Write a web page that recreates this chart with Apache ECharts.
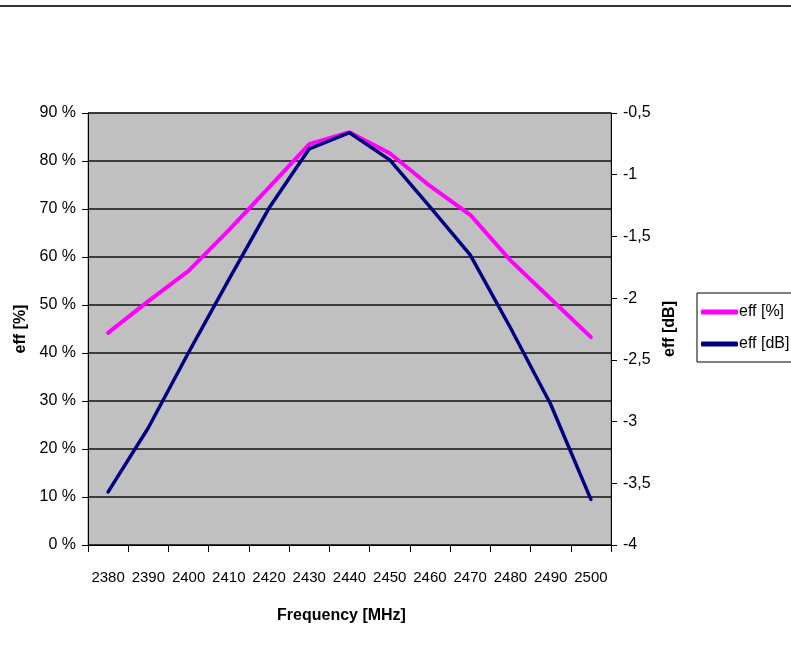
<!DOCTYPE html>
<html>
<head>
<meta charset="utf-8">
<script src="https://cdn.jsdelivr.net/npm/echarts@6/dist/echarts.min.js"></script>
<style>
html,body{margin:0;padding:0;background:#fff;}
#chart{width:791px;height:647px;}
</style>
</head>
<body>
<div id="chart"></div>
<script>
const categories = ['2380','2390','2400','2410','2420','2430','2440','2450','2460','2470','2480','2490','2500'];
const effPct = [44.2, 50.8, 57.1, 65.6, 74.5, 83.5, 86.0, 81.6, 74.8, 68.8, 59.3, 51.3, 43.3];
const effDb = [-3.57, -3.05, -2.44, -1.85, -1.27, -0.79, -0.66, -0.88, -1.26, -1.65, -2.24, -2.86, -3.63];
const seriesNames = ['eff [%]', 'eff [dB]'];

const FONT = '"Liberation Sans", Arial, sans-serif';
const chart = echarts.init(document.getElementById('chart'));
chart.setOption({
  animation: false,
  backgroundColor: '#fff',
  textStyle: { fontFamily: FONT },
  graphic: [
    { type: 'rect', shape: { x: 0, y: 5, width: 791, height: 2 }, style: { fill: '#333' }, silent: true }
  ],
  grid: {
    left: 88, right: 180, top: 113, bottom: 102,
    outerBoundsMode: 'none',
    show: true, backgroundColor: '#c0c0c0', borderColor: '#808080', borderWidth: 1
  },
  legend: {
    left: 697, top: 293, orient: 'vertical',
    data: seriesNames.map(n => ({ name: n, icon: 'roundRect' })),
    itemWidth: 37, itemHeight: 5, itemGap: 16,
    padding: [11, 30, 10, 4],
    borderColor: '#000', borderWidth: 1,
    textStyle: { fontFamily: FONT, fontSize: 16, color: '#000', padding: [0, 0, 0, -4] }
  },
  xAxis: {
    type: 'category', data: categories, boundaryGap: true,
    name: 'Frequency [MHz]', nameLocation: 'middle', nameGap: 63,
    nameTextStyle: { fontFamily: FONT, fontSize: 16, fontWeight: 'bold', color: '#000', padding: [0, 16, 0, 0] },
    axisLine: { lineStyle: { color: '#000', width: 1 } },
    axisTick: { show: true, length: 7, alignWithLabel: false, lineStyle: { color: '#000' } },
    axisLabel: { fontFamily: FONT, fontSize: 15, color: '#000', margin: 25, interval: 0 },
    splitLine: { show: false }
  },
  yAxis: [
    {
      type: 'value', min: 0, max: 90, interval: 10, position: 'left',
      name: 'eff [%]', nameLocation: 'middle', nameGap: 57, nameRotate: 90,
      nameTextStyle: { fontFamily: FONT, fontSize: 16, fontWeight: 'bold', color: '#000' },
      axisLine: { show: true, lineStyle: { color: '#000', width: 1 } },
      axisTick: { show: true, length: 6, lineStyle: { color: '#000' } },
      axisLabel: { fontFamily: FONT, fontSize: 16, color: '#000', margin: 12, formatter: '{value} %' },
      splitLine: { show: true, lineStyle: { color: '#111', width: 1.6 } }
    },
    {
      type: 'value', min: -4, max: -0.5, interval: 0.5, position: 'right',
      name: 'eff [dB]', nameLocation: 'middle', nameGap: 39, nameRotate: 90,
      nameTextStyle: { fontFamily: FONT, fontSize: 16, fontWeight: 'bold', color: '#000' },
      axisLine: { show: true, lineStyle: { color: '#000', width: 1 } },
      axisTick: { show: true, length: 6, lineStyle: { color: '#000' } },
      axisLabel: { fontFamily: FONT, fontSize: 16, color: '#000', margin: 12,
        formatter: v => String(v).replace('.', ',') },
      splitLine: { show: false }
    }
  ],
  series: [
    { name: seriesNames[0], type: 'line', yAxisIndex: 0, data: effPct, symbol: 'none',
      lineStyle: { color: '#ff00ff', width: 4, cap: 'round', join: 'round' }, itemStyle: { color: '#ff00ff' } },
    { name: seriesNames[1], type: 'line', yAxisIndex: 1, data: effDb, symbol: 'none',
      lineStyle: { color: '#000080', width: 3.5, cap: 'round', join: 'round' }, itemStyle: { color: '#000080' } }
  ]
});
</script>
</body>
</html>
